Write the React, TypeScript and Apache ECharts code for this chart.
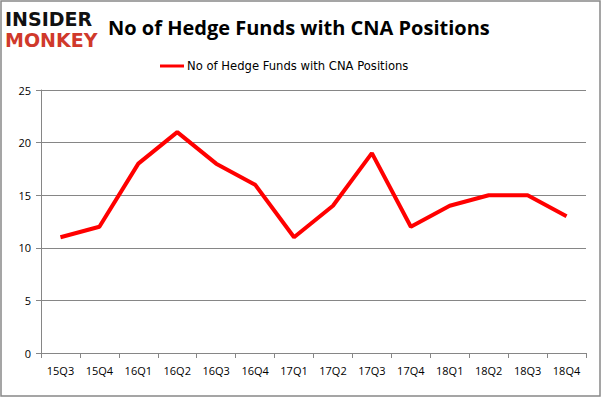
import React, { useEffect, useRef } from "react";
import * as echarts from "echarts";

const categories = ["15Q3", "15Q4", "16Q1", "16Q2", "16Q3", "16Q4", "17Q1", "17Q2", "17Q3", "17Q4", "18Q1", "18Q2", "18Q3", "18Q4"];
const hedgeFunds = [11, 12, 18, 21, 18, 16, 11, 14, 19, 12, 14, 15, 15, 13];
const seriesName = "No of Hedge Funds with CNA Positions";
const titleText = "No of Hedge Funds with CNA Positions";

export default function App() {
  const ref = useRef<HTMLDivElement>(null);
  useEffect(() => {
    document.body.style.margin = "0";
    const chart = echarts.init(ref.current!, null, { renderer: "svg" });
    chart.setOption({
      animation: false,
      backgroundColor: "#ffffff",
      title: {
        text: titleText,
        left: 103,
        top: 12,
        textStyle: { fontFamily: "Open Sans", fontWeight: "bold", fontSize: 20, color: "#000" },
      },
      legend: {
        top: 55,
        left: 155,
        itemWidth: 24,
        itemHeight: 3,
        itemGap: 4,
        icon: "rect",
        textStyle: { fontFamily: "DejaVu Sans", fontSize: 11.6, color: "#000", padding: [0, 0, 0, -2] },
        data: [seriesName],
      },
      grid: { left: 41, right: 16, top: 90, bottom: 45 },
      xAxis: {
        type: "category",
        data: categories,
        boundaryGap: true,
        axisLine: { lineStyle: { color: "#868686" } },
        axisTick: { show: true, alignWithLabel: false, length: 5, lineStyle: { color: "#868686" } },
        axisLabel: { color: "#000", fontFamily: "Open Sans", fontSize: 11, margin: 12 },
      },
      yAxis: {
        type: "value",
        min: 0,
        max: 25,
        interval: 5,
        axisLine: { show: true, lineStyle: { color: "#868686" } },
        axisTick: { show: true, length: 5, lineStyle: { color: "#868686" } },
        splitLine: { lineStyle: { color: "#868686" } },
        axisLabel: { color: "#000", fontFamily: "Open Sans", fontSize: 11, margin: 10 },
      },
      series: [
        {
          name: seriesName,
          type: "line",
          data: hedgeFunds,
          showSymbol: false,
          symbol: "none",
          lineStyle: { color: "#ff0000", width: 4 },
          itemStyle: { color: "#ff0000" },
        },
      ],
      graphic: [
        {
          type: "rect",
          shape: { x: 1, y: 1, width: 599, height: 395 },
          style: { fill: "none", stroke: "#888", lineWidth: 1.5 },
          silent: true,
        },
        {
          type: "text",
          x: 5,
          y: 9,
          style: { text: "INSIDER", fontFamily: "DejaVu Sans", fontWeight: 900, fontSize: 19, fill: "#111", letterSpacing: -1 },
        },
        {
          type: "text",
          x: 5,
          y: 30,
          style: { text: "MONKEY", fontFamily: "DejaVu Sans", fontWeight: 900, fontSize: 19, fill: "#d0392b", letterSpacing: -1 },
        },
      ],
    });
    return () => chart.dispose();
  }, []);
  return <div ref={ref} style={{ width: 602, height: 398 }} />;
}
